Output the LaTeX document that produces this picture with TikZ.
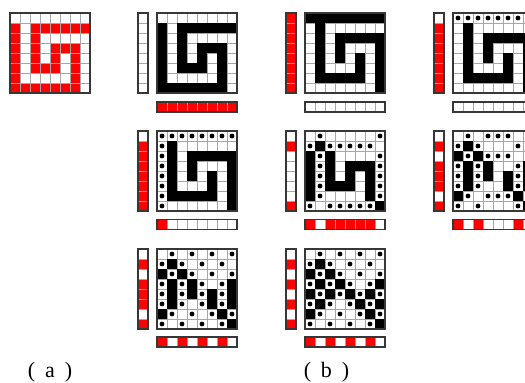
\documentclass[tikz,border=0pt]{standalone}
\usepackage{fontspec}
\setmainfont{Liberation Serif}

\definecolor{cellred}{RGB}{255,0,0}
\definecolor{framegray}{RGB}{55,55,55}

% cells of one 8x8 weave: 0 = white, 1 = black, 2 = dot
\newcommand{\weavegrid}[3]{%
	\fill[white] (#1,#2) rectangle ++(80,80);
	\foreach \k in {1,...,7} {
		\draw[cellline] (#1+10*\k,#2) -- ++(0,80);
		\draw[cellline] (#1,#2+10*\k) -- ++(80,0);
	}
	\foreach \rowvals [count=\i from 0] in {#3} {
		\foreach \v [count=\j from 0] in \rowvals {
			\ifnum\v=1 \fill[black] (#1+10*\j,#2+10*\i) rectangle ++(10,10);\fi
			\ifnum\v=2 \fill[black] (#1+10*\j+5,#2+10*\i+5) circle (2.4pt);\fi
		}
	}
	\draw[gridframe] (#1,#2) rectangle ++(80,80);
}

% the red target picture: 1 = red
\newcommand{\targetgrid}[3]{%
	\foreach \rowvals [count=\i from 0] in {#3} {
		\foreach \v [count=\j from 0] in \rowvals {
			\ifnum\v=1 \fill[cellred] (#1+10*\j,#2+10*\i) rectangle ++(10,10);\fi
		}
	}
	\foreach \k in {1,...,7} {
		\draw[cellline] (#1+10*\k,#2) -- ++(0,80);
		\draw[cellline] (#1,#2+10*\k) -- ++(80,0);
	}
	\draw[gridframe] (#1,#2) rectangle ++(80,80);
}

% weft strip (left, top to bottom) and warp strip (below, left to right)
\newcommand{\weftstrip}[3]{%
	\foreach \v [count=\i from 0] in {#3} {
		\ifnum\v=1 \fill[cellred] (#1,#2+10*\i) rectangle ++(10,10);\fi
	}
	\foreach \k in {1,...,7} \draw[cellline] (#1,#2+10*\k) -- ++(10,0);
	\draw[gridframe] (#1,#2) rectangle ++(10,80);
}
\newcommand{\warpstrip}[3]{%
	\foreach \v [count=\j from 0] in {#3} {
		\ifnum\v=1 \fill[cellred] (#1+10*\j,#2) rectangle ++(10,10);\fi
	}
	\foreach \k in {1,...,7} \draw[cellline] (#1+10*\k,#2) -- ++(0,10);
	\draw[gridframe] (#1,#2) rectangle ++(80,10);
}

\begin{document}
\begin{tikzpicture}[
		x=1pt, y=-1pt,
		cellline/.style={draw=black!35, line width=0.8pt},
		gridframe/.style={draw=framegray, line width=1.3pt},
		lbl/.style={font=\fontsize{22}{26}\selectfont, inner sep=0pt, anchor=base},
	]
	\useasboundingbox (0,0) rectangle (525,383);
	\clip (0,0) rectangle (525,383);

	% --- (a) target ---
	\targetgrid{10}{13}{
		{0,0,0,0,0,0,0,0},{1,0,1,1,1,1,1,1},{1,0,1,0,0,0,0,0},{1,0,1,0,1,1,1,0},
		{1,0,1,0,1,0,1,0},{1,0,1,1,1,0,1,0},{1,0,0,0,0,0,1,0},{1,1,1,1,1,1,1,0}}

	% --- row 1 ---
	\weftstrip{138}{13}{0,0,0,0,0,0,0,0}
	\warpstrip{157}{102}{1,1,1,1,1,1,1,1}
	\weavegrid{157}{13}{
		{0,0,0,0,0,0,0,0},{1,0,1,1,1,1,1,1},{1,0,1,0,0,0,0,0},{1,0,1,0,1,1,1,0},
		{1,0,1,0,1,0,1,0},{1,0,1,1,1,0,1,0},{1,0,0,0,0,0,1,0},{1,1,1,1,1,1,1,0}}

	\weftstrip{286}{13}{1,1,1,1,1,1,1,1}
	\warpstrip{305}{102}{0,0,0,0,0,0,0,0}
	\weavegrid{305}{13}{
		{1,1,1,1,1,1,1,1},{0,1,0,0,0,0,0,0},{0,1,0,1,1,1,1,1},{0,1,0,1,0,0,0,1},
		{0,1,0,1,0,1,0,1},{0,1,0,0,0,1,0,1},{0,1,1,1,1,1,0,1},{0,0,0,0,0,0,0,1}}

	\weftstrip{434}{13}{0,1,1,1,1,1,1,1}
	\warpstrip{453}{102}{0,0,0,0,0,0,0,0}
	\weavegrid{453}{13}{
		{2,2,2,2,2,2,2,2},{0,1,0,0,0,0,0,0},{0,1,0,1,1,1,1,1},{0,1,0,1,0,0,0,1},
		{0,1,0,1,0,1,0,1},{0,1,0,0,0,1,0,1},{0,1,1,1,1,1,0,1},{0,0,0,0,0,0,0,1}}

	% --- row 2 ---
	\weftstrip{138}{131}{0,1,1,1,1,1,1,1}
	\warpstrip{157}{219.5}{1,0,0,0,0,0,0,0}
	\weavegrid{157}{131}{
		{2,2,2,2,2,2,2,2},{2,1,0,0,0,0,0,0},{2,1,0,1,1,1,1,1},{2,1,0,1,0,0,0,1},
		{2,1,0,1,0,1,0,1},{2,1,0,0,0,1,0,1},{2,1,1,1,1,1,0,1},{2,0,0,0,0,0,0,1}}

	\weftstrip{286}{131}{0,1,0,0,0,0,0,1}
	\warpstrip{305}{219.5}{1,0,1,1,1,1,1,0}
	\weavegrid{305}{131}{
		{0,2,0,0,0,0,0,2},{2,1,2,2,2,2,2,0},{1,2,1,0,0,0,0,2},{1,2,1,0,1,1,1,2},
		{1,2,1,0,1,0,1,2},{1,2,1,1,1,0,1,2},{1,2,0,0,0,0,1,2},{2,0,2,2,2,2,2,1}}

	\weftstrip{434}{131}{0,1,0,1,1,1,0,1}
	\warpstrip{453}{219.5}{1,0,1,0,0,0,1,0}
	\weavegrid{453}{131}{
		{0,2,0,2,2,2,0,2},{2,1,2,0,0,0,2,0},{1,2,1,2,2,2,0,2},{2,1,2,1,0,0,2,1},
		{2,1,2,1,0,1,2,1},{2,1,2,0,0,1,2,1},{1,2,0,2,2,2,1,2},{2,0,2,0,0,0,2,1}}

	% --- row 3 ---
	\weftstrip{138}{249}{0,1,0,1,1,1,0,1}
	\warpstrip{157}{337}{1,0,1,0,1,0,1,0}
	\weavegrid{157}{249}{
		{0,2,0,2,0,2,0,2},{2,1,2,0,2,0,2,0},{1,2,1,2,0,2,0,2},{2,1,2,1,2,0,2,1},
		{2,1,2,1,2,1,2,1},{2,1,2,0,2,1,2,1},{1,2,0,2,0,2,1,2},{2,0,2,0,2,0,2,1}}

	\weftstrip{286}{249}{0,1,0,1,0,1,0,1}
	\warpstrip{305}{337}{1,0,1,0,1,0,1,0}
	\weavegrid{305}{249}{
		{0,2,0,2,0,2,0,2},{2,1,2,0,2,0,2,0},{1,2,1,2,0,2,0,2},{2,1,2,1,2,0,2,1},
		{1,2,1,2,1,2,1,2},{2,1,2,0,2,1,2,1},{1,2,0,2,0,2,1,2},{2,0,2,0,2,0,2,1}}

	% --- labels ---
	\node[lbl] (lbla) at (50,377) {(\hspace{0.45em}a\hspace{0.45em})};
	\node[lbl] (lblb) at (326.5,377) {(\hspace{0.45em}b\hspace{0.45em})};

\end{tikzpicture}
\end{document}
